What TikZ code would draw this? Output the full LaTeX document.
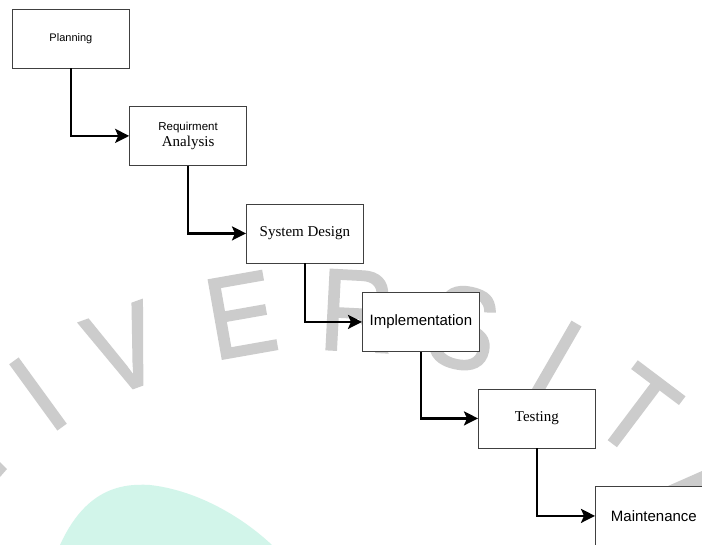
\documentclass[tikz,border=0pt]{standalone}
\usepackage{fontspec}
\setmainfont{Liberation Serif}
\setsansfont{Liberation Sans}
\newfontfamily\wmfont[AutoFakeBold=1.8, FakeStretch=0.88]{Liberation Sans}
\usetikzlibrary{arrows.meta}
\definecolor{wmgray}{HTML}{CCCCCC}
\definecolor{mint}{HTML}{D2F5EA}
\begin{document}
\begin{tikzpicture}[x=1pt,y=-1pt,
  box/.style={draw=black!75, line width=0.8pt, fill=white, minimum width=117pt,
    minimum height=59pt, inner sep=0pt, anchor=north west, align=center},
  conn/.style={line width=2.5pt, -{Stealth[length=14pt,width=14pt,inset=3pt]}},
  wm/.style={text=wmgray, font=\wmfont\bfseries\fontsize{116}{116}\selectfont, inner sep=0pt},
  sansS/.style={font=\sffamily\fontsize{11}{13}\selectfont},
  sansL/.style={font=\sffamily\fontsize{15}{17}\selectfont},
  serifL/.style={font=\rmfamily\fontsize{15}{17}\selectfont},
]
\useasboundingbox (0,0) rectangle (702,544);
\clip (0,0) rectangle (702,544);
\fill[white] (0,0) rectangle (702,544);
% watermark
\node[wm, rotate=36] (w1) at (38,394) {I};
\node[wm, rotate=20] (w2) at (124,349) {V};
\node[wm, rotate=10] (w3) at (241,315) {E};
\node[wm, rotate=-3] (w4) at (357,311) {R};
\node[wm, rotate=-12] (w5) at (463,328) {S};
\node[wm, rotate=-30] (w6) at (556,359) {I};
\node[wm, rotate=-37] (w7) at (637,411) {T};
\fill[wmgray] (668,486) -- (702,486) -- (702,471) -- cycle;
\fill[wmgray] (0,462) -- (7,469) -- (0,477) -- cycle;
\fill[mint] (60,545) .. controls (85,490) and (120,483) .. (150,485)
  .. controls (195,490) and (240,515) .. (272,545) -- cycle;
% boxes
\node[box, sansS] (plan) at (12,8.5) {Planning};
\node[box] (req) at (129.2,106) {{\sffamily\fontsize{11.5}{14}\selectfont Requirment}\\[2pt]{\rmfamily\fontsize{15}{17}\selectfont Analysis}};
\node[box, serifL] (des) at (246,203.5) {System Design};
\node[box, sansL] (imp) at (362,292) {Implementation};
\node[box, serifL] (tst) at (478,388.5) {Testing};
\node[box, sansL] (mnt) at (595,486) {Maintenance};
% connectors
\draw[conn] (plan.south) |- (req.west);
\draw[conn] (req.south) |- (des.west);
\draw[conn] (des.south) |- (imp.west);
\draw[conn] (imp.south) |- (tst.west);
\draw[conn] (tst.south) |- (mnt.west);
\end{tikzpicture}
\end{document}
